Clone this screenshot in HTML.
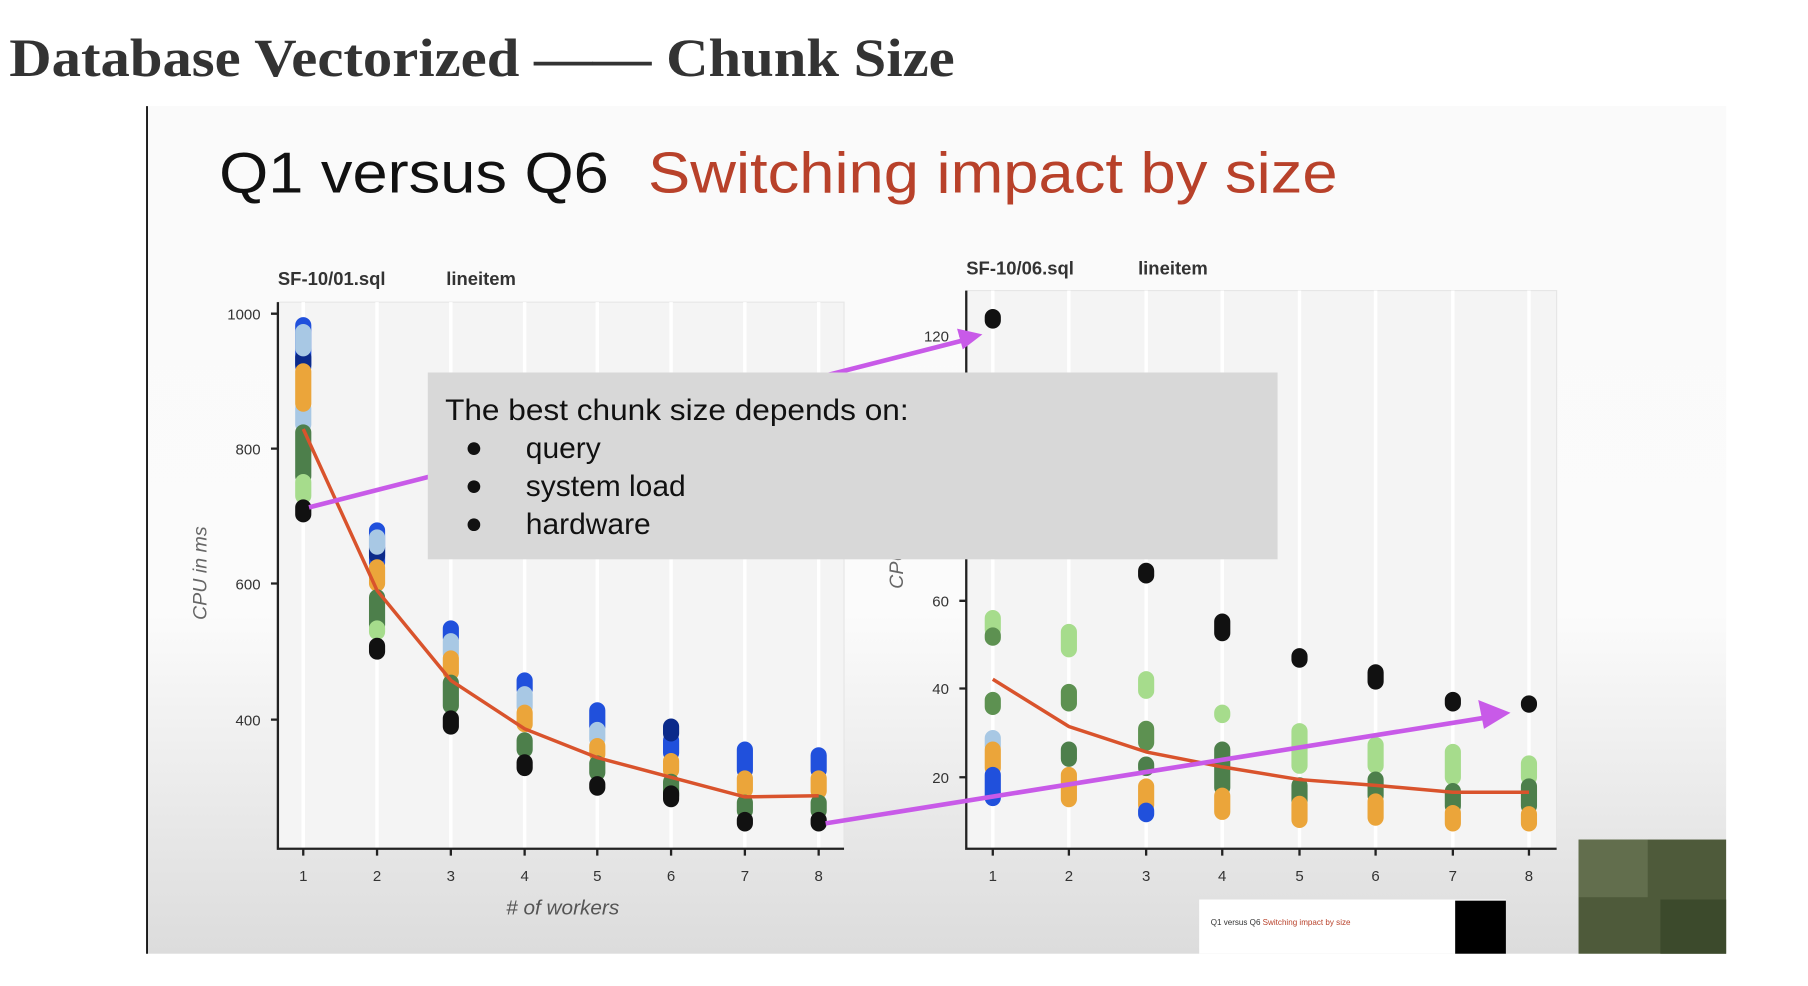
<!DOCTYPE html>
<html><head><style>html,body{margin:0;padding:0;background:#fff;width:1808px;height:986px;overflow:hidden}</style></head>
<body>
<svg width="1808" height="986" viewBox="0 0 1568 855" preserveAspectRatio="none" xmlns="http://www.w3.org/2000/svg" font-family="'Liberation Sans', sans-serif">
<defs>
<linearGradient id="bg" x1="0" y1="0" x2="0" y2="1">
<stop offset="0" stop-color="#fafafa"/><stop offset="0.6" stop-color="#fbfbfb"/><stop offset="1" stop-color="#dcdcdc"/></linearGradient>
</defs>
<text x="8" y="66" font-family="'Liberation Serif', serif" font-weight="bold" font-size="47" fill="#333" textLength="820" lengthAdjust="spacingAndGlyphs">Database Vectorized —— Chunk Size</text>
<rect x="127" y="92" width="1370" height="735" fill="url(#bg)"/>
<line x1="127.5" y1="92" x2="127.5" y2="827" stroke="#000" stroke-width="1.5"/>
<text x="190" y="167" font-size="50" fill="#111" textLength="338" lengthAdjust="spacingAndGlyphs">Q1 versus Q6</text>
<text x="562" y="167" font-size="50" fill="#b8412a" textLength="598" lengthAdjust="spacingAndGlyphs">Switching impact by size</text>

<g font-size="16" font-weight="bold" fill="#333">
<text x="241" y="247">SF-10/01.sql</text><text x="387" y="247">lineitem</text>
<text x="838" y="238">SF-10/06.sql</text><text x="987" y="238">lineitem</text>
</g>
<rect x="241" y="262" width="491" height="474" fill="#f4f4f4" stroke="#e6e6e6"/>
<rect x="838" y="252" width="512" height="484" fill="#f4f4f4" stroke="#e6e6e6"/>
<g stroke="#fff" stroke-width="3">
<line x1="263" y1="262" x2="263" y2="736"/><line x1="327" y1="262" x2="327" y2="736"/><line x1="391" y1="262" x2="391" y2="736"/><line x1="455" y1="262" x2="455" y2="736"/><line x1="518" y1="262" x2="518" y2="736"/><line x1="582" y1="262" x2="582" y2="736"/><line x1="646" y1="262" x2="646" y2="736"/><line x1="710" y1="262" x2="710" y2="736"/>
<line x1="861" y1="252" x2="861" y2="736"/><line x1="927" y1="252" x2="927" y2="736"/><line x1="994" y1="252" x2="994" y2="736"/><line x1="1060" y1="252" x2="1060" y2="736"/><line x1="1127" y1="252" x2="1127" y2="736"/><line x1="1193" y1="252" x2="1193" y2="736"/><line x1="1260" y1="252" x2="1260" y2="736"/><line x1="1326" y1="252" x2="1326" y2="736"/>
</g>
<g stroke="#222" stroke-width="2" fill="none">
<path d="M241 262 V736 H732"/><path d="M838 252 V736 H1350"/>
<path d="M235 272H241M235 389H241M235 506H241M235 624H241"/>
<path d="M832 291H838M832 521H838M832 597H838M832 674H838"/>
<path d="M263 736v6M327 736v6M391 736v6M455 736v6M518 736v6M582 736v6M646 736v6M710 736v6"/>
<path d="M861 736v6M927 736v6M994 736v6M1060 736v6M1127 736v6M1193 736v6M1260 736v6M1326 736v6"/>
</g>
<g font-size="13" fill="#333" text-anchor="end">
<text x="226" y="277">1000</text><text x="226" y="394">800</text><text x="226" y="511">600</text><text x="226" y="629">400</text>
<text x="823" y="296">120</text><text x="823" y="526">60</text><text x="823" y="602">40</text><text x="823" y="679">20</text>
</g>
<g font-size="13" fill="#333" text-anchor="middle">
<text x="263" y="764">1</text><text x="327" y="764">2</text><text x="391" y="764">3</text><text x="455" y="764">4</text><text x="518" y="764">5</text><text x="582" y="764">6</text><text x="646" y="764">7</text><text x="710" y="764">8</text>
<text x="861" y="764">1</text><text x="927" y="764">2</text><text x="994" y="764">3</text><text x="1060" y="764">4</text><text x="1127" y="764">5</text><text x="1193" y="764">6</text><text x="1260" y="764">7</text><text x="1326" y="764">8</text>
</g>
<text x="488" y="793" font-size="18" font-style="italic" fill="#555" text-anchor="middle"># of workers</text>
<text transform="translate(179,497) rotate(-90)" font-size="17" font-style="italic" fill="#666" text-anchor="middle">CPU in ms</text>
<text transform="translate(783,470) rotate(-90)" font-size="17" font-style="italic" fill="#666" text-anchor="middle">CPU in ms</text>

<g stroke-linecap="round" stroke-width="14" fill="none">
<path stroke="#2050dc" d="M263 282V318M327 460V488M391 545V553M455 590V598M518 616V630M582 642V653M646 650V668M710 655V668"/>
<path stroke="#0b2a8a" d="M263 310V316M327 475V482M582 630V636"/>
<path stroke="#a8c8e4" d="M263 288V302M263 354V368M327 466V474M391 556V567M455 602V613M518 633V641"/>
<path stroke="#eba53a" d="M263 322V350M327 492V506M391 571V583M455 618V628M518 647V654M582 660V668M646 675V685M710 675V686"/>
<path stroke="#4d7f4b" d="M263 375V413M327 518V542M391 592V612M455 642V650M518 662V670M582 678V690M646 696V703M710 696V703"/>
<path stroke="#a6dc8c" d="M263 418V430M327 545V548"/>
<path stroke="#111" d="M263 440V446M327 560V565M391 623V630M455 661V666M518 680V683M582 688V693M646 711V714M710 711V714"/>
<path stroke="#111" d="M861 275V278M994 495V499M1060 539V549M1127 569V572M1193 583V591M1260 607V610M1326 610V611"/>
<path stroke="#a6dc8c" d="M861 536V546M927 548V563M994 589V599M1060 618V620M1127 634V664M1193 646V664M1260 652V674M1326 662V674"/>
<path stroke="#5d9151" d="M861 551V553M861 607V613M927 600V610M994 632V644"/>
<path stroke="#4d7f4b" d="M927 650V658M994 663V666M1060 650V683M1127 681V694M1193 676V690M1260 686V699M1326 682V699"/>
<path stroke="#a8c8e4" d="M861 640V647"/>
<path stroke="#eba53a" d="M861 650V666M927 672V693M994 682V698M1060 690V704M1127 697V711M1193 695V709M1260 705V714M1326 706V714"/>
<path stroke="#2050dc" d="M861 672V692M994 703V706"/>
</g>
<polyline fill="none" stroke="#d9532c" stroke-width="3" points="263,372 327,512 391,590 455,632 518,657 582,674 646,691 710,690"/>
<polyline fill="none" stroke="#d9532c" stroke-width="3" points="861,589 927,630 994,652 1060,665 1127,676 1193,681 1260,687 1326,687"/>
<line x1="268" y1="440" x2="840" y2="294" stroke="#c85ae8" stroke-width="4"/>
<path d="M852,290 L830,285 L835,303 z" fill="#c85ae8"/>
<line x1="716" y1="714" x2="1290" y2="622" stroke="#c85ae8" stroke-width="4"/>
<path d="M1310,618 L1282,607 L1287,632 z" fill="#c85ae8"/>

<rect x="371" y="323" width="737" height="162" fill="#d8d8d8"/>
<g font-size="26" fill="#111">
<text x="386" y="364" textLength="402" lengthAdjust="spacingAndGlyphs">The best chunk size depends on:</text>
<text x="456" y="397">query</text><text x="456" y="430">system load</text><text x="456" y="463">hardware</text>
</g>
<circle cx="411" cy="389" r="5.5" fill="#111"/><circle cx="411" cy="422" r="5.5" fill="#111"/><circle cx="411" cy="455" r="5.5" fill="#111"/>

<rect x="1040" y="780" width="266" height="47" fill="#fff"/>
<rect x="1262" y="781" width="44" height="46" fill="#000"/>
<text x="1050" y="802" font-size="7" fill="#333">Q1 versus Q6 <tspan fill="#b8412a">Switching impact by size</tspan></text>
<rect x="1369" y="728" width="128" height="99" fill="#4e5a3a"/>
<rect x="1369" y="728" width="60" height="50" fill="#6b7656" opacity="0.7"/>
<rect x="1440" y="780" width="57" height="47" fill="#3c4a2c"/>
</svg>
</body></html>
